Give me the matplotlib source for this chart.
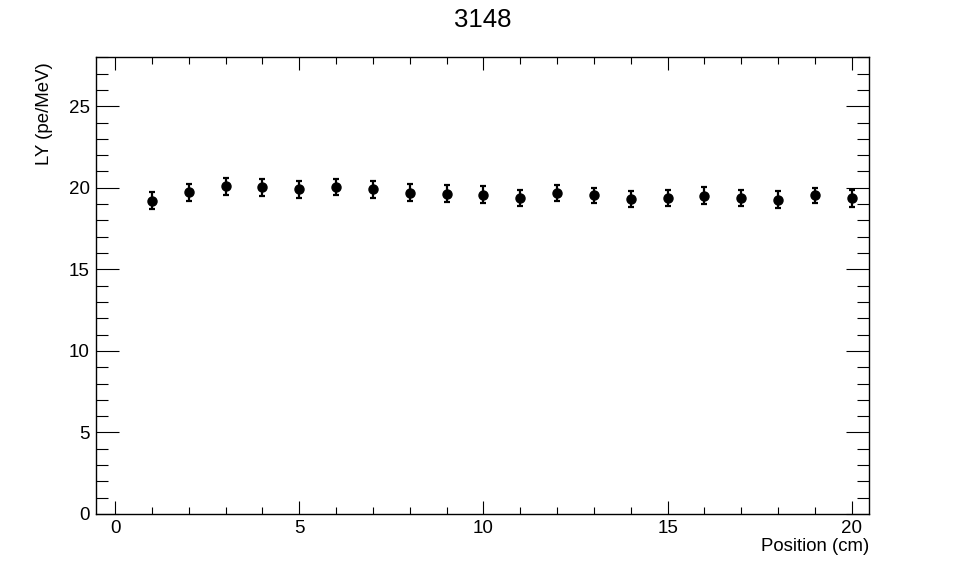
import matplotlib.pyplot as plt
from matplotlib.ticker import MultipleLocator

plt.rcParams['font.family'] = ['Liberation Sans', 'DejaVu Sans']

# data
position = list(range(1, 21))
light_yield = [19.22, 19.72, 20.08, 20.02, 19.9, 20.04, 19.9, 19.71, 19.65, 19.58,
               19.38, 19.68, 19.53, 19.33, 19.38, 19.52, 19.38, 19.28, 19.53, 19.35]
ly_error = [0.5, 0.52, 0.53, 0.5, 0.52, 0.5, 0.52, 0.5, 0.5, 0.5,
            0.5, 0.5, 0.48, 0.5, 0.5, 0.5, 0.48, 0.5, 0.48, 0.5]

fig = plt.figure(figsize=(9.66, 5.72), dpi=100)
ax = fig.add_axes([0.0994, 0.1014, 0.8006, 0.7984])

ax.errorbar(position, light_yield, yerr=ly_error, fmt='o', color='black',
            markersize=6.5, elinewidth=1.6, capsize=2.5, capthick=1.6)

# appearance
ax.set_xlim(-0.52, 20.48)
ax.set_ylim(0, 28)
ax.xaxis.set_major_locator(MultipleLocator(5))
ax.xaxis.set_minor_locator(MultipleLocator(1))
ax.yaxis.set_major_locator(MultipleLocator(5))
ax.yaxis.set_minor_locator(MultipleLocator(1))

ax.tick_params(axis='both', which='both', direction='in', top=True, right=True,
               labelsize=13.5, width=0.8, color='black')
ax.tick_params(axis='x', which='major', length=9.4, pad=4.5)
ax.tick_params(axis='x', which='minor', length=5)
ax.tick_params(axis='y', which='major', length=16.6, pad=4.5)
ax.tick_params(axis='y', which='minor', length=8.6)
for sp in ax.spines.values():
    sp.set_linewidth(1.0)

ax.set_xlabel('Position (cm)', fontsize=13.4, loc='right')
ax.xaxis.set_label_coords(1.0, -0.052)
ax.set_ylabel('LY (pe/MeV)', fontsize=13.4, loc='top')
ax.yaxis.set_label_coords(-0.0556, 0.99)

fig.text(0.5, 1 - 8 / 572, '3148', fontsize=18.5, ha='center', va='top')

fig.savefig('out.png', dpi=100)
